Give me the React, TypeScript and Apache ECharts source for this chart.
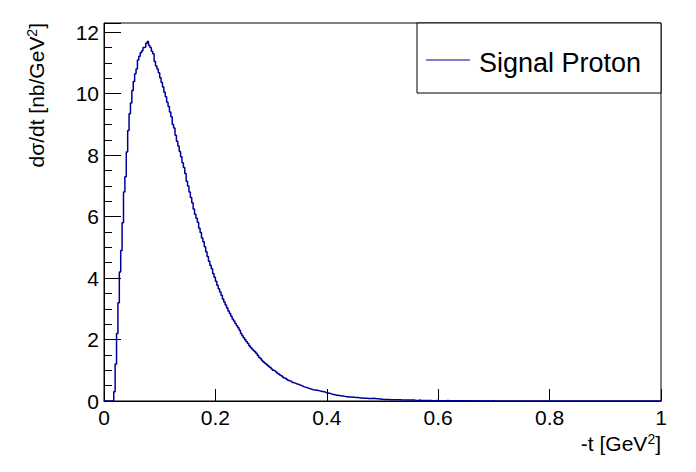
import React, { useEffect, useRef } from "react";
import * as echarts from "echarts";

// Histogram: d(sigma)/dt vs -t, bins of width 0.0025 starting at 0.015
const binStart = 0.015;
const binWidth = 0.0025;
const dsdt: number[] = [
  // 0.015 - 0.040
  0, 0.3, 1.2, 2.2, 3.2, 4.2, 4.9, 5.8, 6.8, 7.3,
  // 0.040 - 0.065
  8.1, 8.8, 9.35, 9.7, 10.1, 10.4, 10.65, 10.8, 11.1, 11.22,
  // 0.065 - 0.090
  11.33, 11.4, 11.5, 11.52, 11.64, 11.7, 11.57, 11.5, 11.38, 11.3,
  // 0.090 - 0.115
  11.05, 10.9, 10.8, 10.68, 10.52, 10.36, 10.22, 10.05, 9.9, 9.72,
  // 0.115 - 0.140
  9.58, 9.4, 9.25, 9.0, 8.88, 8.65, 8.45, 8.3, 8.12, 7.95,
  // 0.140 - 0.165
  7.75, 7.6, 7.4, 7.15, 7.0, 6.8, 6.62, 6.45, 6.25, 6.08,
  // 0.165 - 0.190
  5.95, 5.82, 5.62, 5.48, 5.3, 5.18, 5.02, 4.86, 4.7, 4.55,
  // 0.190 - 0.215
  4.42, 4.3, 4.15, 4.03, 3.9, 3.77, 3.65, 3.55, 3.44, 3.32,
  // 0.215 - 0.240
  3.22, 3.12, 3.03, 2.93, 2.85, 2.76, 2.67, 2.6, 2.52, 2.45,
  // 0.240 - 0.265
  2.38, 2.3, 2.2, 2.12, 2.06, 1.99, 1.93, 1.87, 1.8, 1.74,
  // 0.265 - 0.290
  1.69, 1.64, 1.6, 1.55, 1.49, 1.42, 1.38, 1.33, 1.28, 1.24,
  // 0.290 - 0.315
  1.2, 1.16, 1.12, 1.09, 1.04, 1.0, 0.98, 0.95, 0.91, 0.88,
  // 0.315 - 0.340
  0.85, 0.82, 0.78, 0.75, 0.73, 0.7, 0.67, 0.65, 0.63, 0.6,
  // 0.340 - 0.365
  0.59, 0.57, 0.55, 0.54, 0.52, 0.5, 0.48, 0.46, 0.45, 0.43,
  // 0.365 - 0.390
  0.42, 0.4, 0.39, 0.37, 0.36, 0.36, 0.35, 0.34, 0.33, 0.32,
  // 0.390 - 0.415
  0.31, 0.3, 0.29, 0.27, 0.26, 0.25, 0.24, 0.22, 0.21, 0.2,
  // 0.415 - 0.440
  0.19, 0.19, 0.18, 0.17, 0.16, 0.16, 0.15, 0.14, 0.14, 0.13,
  // 0.440 - 0.465
  0.13, 0.13, 0.12, 0.12, 0.11, 0.11, 0.11, 0.1, 0.1, 0.1,
  // 0.465 - 0.490
  0.09, 0.09, 0.09, 0.08, 0.08, 0.08, 0.08, 0.09, 0.08, 0.07,
  // 0.490 - 0.515
  0.07, 0.07, 0.06, 0.06, 0.05, 0.05, 0.05, 0.05, 0.05, 0.04,
  // 0.515 - 0.540
  0.04, 0.04, 0.04, 0.04, 0.04, 0.04, 0.04, 0.03, 0.03, 0.03,
  // 0.540 - 0.565
  0.03, 0.03, 0.03, 0.03, 0.03, 0.03, 0.03, 0.02, 0.02, 0.02,
  // 0.565 - 0.590
  0.03, 0.02, 0.02, 0.02, 0.02, 0.02, 0.02, 0.02, 0.02, 0.01,
  // 0.590 - 0.615
  0.01, 0.01, 0.02, 0.01, 0.01, 0.01, 0.01, 0.01, 0.01, 0.01,
  // 0.615 - 0.640
  0.02, 0.01, 0.01, 0.01, 0.01, 0.01, 0.01, 0.005, 0.01, 0.01,
  // 0.640 - 0.665
  0.01, 0.005, 0.005, 0.005, 0.01, 0, 0.005, 0.005, 0.005, 0,
  // 0.665 - 0.705
  0.005, 0.005, 0, 0.005, 0, 0, 0.005, 0, 0, 0.005,
  0, 0, 0.005, 0, 0, 0,
];

const xMin = 0;
const xMax = 1;
const xInterval = 0.2;
const yMin = 0;
const yMax = 12.3;
const yMajor = 2;
const yMinor = 0.5;

const seriesName = "Signal Proton";
const xTitle = "-t [GeV";
const yTitle = "dσ/dt [nb/GeV";

const FONT = "'Liberation Sans', Arial, Helvetica, sans-serif";
const HIST_COLOR = "#000099";

export default function App() {
  const ref = useRef<HTMLDivElement>(null);

  useEffect(() => {
    if (!ref.current) return;
    const chart = echarts.init(ref.current, undefined, { renderer: "svg" });

    const data: number[][] = [[xMin, 0]];
    dsdt.forEach((v, i) => {
      data.push([Math.round((binStart + i * binWidth) * 1e5) / 1e5, v]);
    });
    const lastEdge = Math.round((binStart + dsdt.length * binWidth) * 1e5) / 1e5;
    data.push([lastEdge, 0]);
    data.push([xMax, 0]);

    chart.setOption({
      animation: false,
      backgroundColor: "#ffffff",
      textStyle: { fontFamily: FONT },
      grid: {
        left: 104,
        top: 23,
        right: 35,
        bottom: 71,
        show: true,
        borderColor: "#000",
        borderWidth: 1,
        backgroundColor: "transparent",
        containLabel: false,
      },
      xAxis: {
        type: "value",
        min: xMin,
        max: xMax,
        interval: xInterval,
        axisLine: { show: true, onZero: false, lineStyle: { color: "#000", width: 1 } },
        axisTick: { show: true, inside: true, length: 12, lineStyle: { color: "#000", width: 1 } },
        splitLine: { show: false },
        axisLabel: {
          color: "#000",
          fontSize: 21,
          fontFamily: FONT,
          margin: 6,
          formatter: (v: number) => String(Math.round(v * 10) / 10),
        },
      },
      yAxis: [
        {
          type: "value",
          position: "left",
          min: yMin,
          max: yMax,
          interval: yMajor,
          axisLine: { show: true, onZero: false, lineStyle: { color: "#000", width: 1 } },
          axisTick: { show: true, inside: true, length: 17, lineStyle: { color: "#000", width: 1 } },
          splitLine: { show: false },
          axisLabel: {
            color: "#000",
            fontSize: 21,
            fontFamily: FONT,
            margin: 5,
            formatter: (v: number) => (Math.abs(v % yMajor) < 1e-6 ? String(v) : ""),
          },
        },
        {
          type: "value",
          position: "left",
          min: yMin,
          max: yMax,
          interval: yMinor,
          axisLine: { show: false },
          axisTick: { show: true, inside: true, length: 8, lineStyle: { color: "#000", width: 1 } },
          splitLine: { show: false },
          axisLabel: { show: false },
        },
      ],
      series: [
        {
          name: seriesName,
          type: "line",
          step: "end",
          data,
          xAxisIndex: 0,
          yAxisIndex: 0,
          showSymbol: false,
          symbol: "none",
          lineStyle: { color: HIST_COLOR, width: 1.5 },
          itemStyle: { color: HIST_COLOR },
          z: 3,
        },
      ],
      graphic: [
        {
          type: "text",
          x: 661,
          y: 443,
          style: {
            text: `{m|${xTitle}}{s|2}{m|]}`,
            align: "right",
            verticalAlign: "middle",
            fill: "#000",
            rich: {
              m: { fontSize: 21, fontFamily: FONT, fill: "#000" },
              s: { fontSize: 14, fontFamily: FONT, fill: "#000", verticalAlign: "top", padding: [0, 0, 9, 0] },
            },
          },
        },
        {
          type: "text",
          x: 36,
          y: 23,
          rotation: Math.PI / 2,
          style: {
            text: `{m|${yTitle}}{s|2}{m|]}`,
            align: "right",
            verticalAlign: "middle",
            fill: "#000",
            rich: {
              m: { fontSize: 21, fontFamily: FONT, fill: "#000" },
              s: { fontSize: 14, fontFamily: FONT, fill: "#000", verticalAlign: "top", padding: [0, 0, 9, 0] },
            },
          },
        },
        {
          type: "rect",
          shape: { x: 417, y: 23, width: 244, height: 70 },
          style: { fill: "#fff", stroke: "#000", lineWidth: 1 },
          z: 10,
        },
        {
          type: "line",
          shape: { x1: 426, y1: 60, x2: 470, y2: 60 },
          style: { stroke: HIST_COLOR, lineWidth: 1 },
          z: 11,
        },
        {
          type: "text",
          x: 479,
          y: 63,
          style: {
            text: seriesName,
            fontSize: 27,
            fontFamily: FONT,
            fill: "#000",
            align: "left",
            verticalAlign: "middle",
          },
          z: 11,
        },
      ],
    });

    return () => {
      chart.dispose();
    };
  }, []);

  return (
    <div
      ref={ref}
      style={{ position: "fixed", left: 0, top: 0, width: 696, height: 472 }}
    />
  );
}
